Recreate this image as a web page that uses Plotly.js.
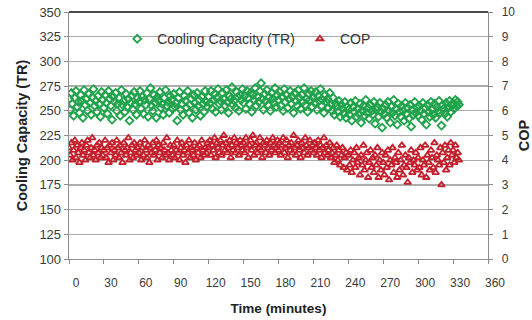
<!DOCTYPE html>
<html>
<head>
<meta charset="utf-8">
<script src="https://cdn.plot.ly/plotly-3.0.1.min.js"></script>
<style>html,body{margin:0;padding:0;background:#fff;}#chart{width:532px;height:320px;}</style>
</head>
<body>
<div id="chart"></div>
<script>
// Cooling capacity (TR), one reading per minute starting at t = 0
const coolingCapacity = [
262,251,268,257,245,263,270,254,259,248,266,260,243,271,256,262,250,267,258,246,264,272,255,260,249,265,257,244,269,261,
253,266,258,247,270,262,255,241,264,259,268,250,257,263,245,271,256,260,249,267,254,262,240,258,265,251,269,257,246,263,
259,270,252,264,247,261,256,268,244,262,273,255,250,266,258,243,264,260,269,253,257,246,263,271,255,259,248,265,261,252,
267,254,258,240,263,269,251,257,246,265,260,253,270,248,256,262,243,266,258,251,268,255,261,245,264,257,249,270,259,254,
264,258,270,252,261,267,249,263,272,257,260,251,268,262,255,271,259,248,265,262,274,256,260,253,269,264,250,266,261,272,
258,265,252,270,263,257,268,249,266,261,273,255,264,259,270,278,262,251,267,260,271,256,264,250,268,262,258,273,254,266,
261,269,255,264,250,272,259,266,253,262,270,257,264,248,268,260,255,271,263,252,266,259,273,256,262,249,267,261,270,254,
263,258,269,251,265,260,272,255,261,248,266,259,262,253,268,257,250,263,246,258,255,249,260,244,256,252,247,259,243,254,
251,246,258,240,254,249,260,244,252,247,257,238,250,255,245,261,248,253,242,256,250,246,259,237,251,254,244,258,249,233,
252,247,256,243,259,250,238,254,248,261,245,252,236,257,249,244,255,250,240,258,247,253,242,256,234,251,246,259,248,253,
245,255,250,241,258,247,253,236,256,249,244,259,251,246,257,243,254,250,260,248,235,256,252,247,258,244,253,260,249,255,
258,252,261,255,259,256
];
// COP, same one-minute readings
const cop = [
4.5,4.2,4.7,4.0,4.4,4.8,4.1,4.6,4.3,3.9,4.5,4.7,4.2,4.4,4.0,4.6,4.8,4.3,4.1,4.5,4.9,4.2,4.4,4.0,4.6,4.3,4.7,4.1,4.5,4.2,
4.4,4.8,4.1,4.5,3.9,4.6,4.3,4.7,4.0,4.4,4.2,4.8,4.5,4.1,4.6,4.3,3.9,4.7,4.4,4.2,4.5,4.9,4.0,4.3,4.6,4.1,4.7,4.4,4.2,4.5,
4.3,4.7,4.0,4.5,4.2,4.8,4.4,4.1,4.6,3.9,4.5,4.3,4.7,4.2,4.4,4.8,4.0,4.6,4.3,4.5,4.1,4.7,4.4,4.2,4.9,4.3,4.0,4.6,4.4,4.2,
4.6,4.1,4.4,4.8,4.3,4.0,4.5,4.7,4.2,4.4,3.9,4.6,4.3,4.8,4.1,4.5,4.4,4.2,4.7,4.0,4.5,4.3,4.6,4.1,4.8,4.4,4.2,4.5,4.3,4.7,
4.5,4.8,4.2,4.6,4.4,4.9,4.1,4.7,4.5,4.3,4.8,4.2,4.6,5.0,4.4,4.7,4.3,4.5,4.8,4.1,4.6,4.4,4.9,4.3,4.7,4.5,4.2,4.8,4.6,4.4,
4.7,4.3,4.9,4.5,4.1,4.6,4.8,4.4,5.0,4.2,4.6,4.7,4.3,4.5,4.9,4.4,4.1,4.7,4.6,4.3,4.8,4.5,4.2,4.7,4.4,4.9,4.6,4.3,4.5,4.8,
4.4,4.7,4.2,4.6,4.9,4.3,4.5,4.8,4.1,4.6,4.4,4.7,4.3,5.0,4.5,4.2,4.6,4.8,4.4,4.1,4.7,4.5,4.3,4.9,4.6,4.2,4.5,4.8,4.4,4.6,
4.3,4.7,4.5,4.2,4.8,4.4,4.6,4.1,4.5,4.9,4.3,4.6,4.2,4.4,4.7,4.1,4.3,4.5,3.9,4.2,4.6,4.0,4.4,3.8,4.2,4.5,3.7,4.1,4.3,3.6,
4.2,3.8,4.4,3.5,4.0,4.3,3.7,4.5,3.9,4.1,3.4,4.2,3.8,4.6,3.6,4.0,4.3,3.3,3.9,4.4,3.7,4.1,3.5,4.2,3.8,4.5,3.3,4.0,3.6,4.3,
3.9,3.4,4.2,3.7,4.4,3.2,4.0,3.8,4.5,3.5,4.1,3.9,3.3,4.3,3.6,4.0,4.6,3.4,3.8,4.2,3.7,3.1,4.1,3.9,4.4,3.5,4.0,3.8,4.3,3.6,
4.1,3.7,4.5,3.4,4.0,3.8,4.6,3.3,4.2,3.9,3.6,4.4,4.1,3.7,4.7,3.5,4.2,4.0,3.8,4.5,3.0,4.3,3.9,4.6,3.6,4.1,4.4,3.8,4.7,4.2,
4.4,3.9,4.6,4.1,4.3,4.0
];
const sampleMinutes = coolingCapacity.map((_, i) => i); // one sample per minute
const seriesNames = ['Cooling Capacity (TR)', 'COP'];
const xTicks = [0, 30, 60, 90, 120, 150, 180, 210, 240, 270, 300, 330, 360];
const yTicks = [100, 125, 150, 175, 200, 225, 250, 275, 300, 325, 350];
const y2Ticks = [0, 1, 2, 3, 4, 5, 6, 7, 8, 9, 10];

const FONT = 'Liberation Sans, Arial, sans-serif';
const GREEN = '#1fa34a';
const RED = '#c41e2a';

const traces = [
  {
    x: sampleMinutes, y: coolingCapacity, name: seriesNames[0], type: 'scatter', mode: 'markers',
    marker: {symbol: 'diamond-open', size: 6, color: GREEN, line: {width: 1.8, color: GREEN}},
    xaxis: 'x', yaxis: 'y'
  },
  {
    x: sampleMinutes, y: cop, name: seriesNames[1], type: 'scatter', mode: 'markers',
    marker: {symbol: 'triangle-up-open', size: 6, color: RED, line: {width: 1.8, color: RED}},
    xaxis: 'x', yaxis: 'y2'
  }
];

const layout = {
  width: 532, height: 320,
  margin: {l: 69, r: 44, t: 12, b: 61, pad: 0},
  paper_bgcolor: '#fff', plot_bgcolor: '#fff',
  font: {family: FONT, size: 12, color: '#3a3a3a'},
  showlegend: true,
  legend: {
    orientation: 'h', x: 0.115, y: 0.89, xanchor: 'left', yanchor: 'middle',
    bgcolor: 'rgba(255,255,255,0)', borderwidth: 0,
    font: {family: FONT, size: 14, color: '#333'}, itemwidth: 30
  },
  xaxis: {
    range: [0, 360], tickvals: xTicks, ticktext: xTicks.map(String),
    showgrid: false, zeroline: false, showline: true, linecolor: '#8c8c8c', linewidth: 1.3,
    ticks: 'outside', ticklen: 4, tickcolor: '#8c8c8c', tickwidth: 1,
    ticklabelstandoff: 8, ticklabelshift: 7,
    tickfont: {family: FONT, size: 12, color: '#3a3a3a'},
    title: {text: '<b>Time (minutes)</b>', font: {family: FONT, size: 13.5, color: '#222'}, standoff: 14}
  },
  yaxis: {
    range: [100, 350], tickvals: yTicks, ticktext: yTicks.map(String),
    showgrid: true, gridcolor: '#adadad', gridwidth: 1.3, zeroline: false,
    showline: true, linecolor: '#8c8c8c', linewidth: 1.3,
    ticks: 'outside', ticklen: 4, tickcolor: '#8c8c8c',
    tickfont: {family: FONT, size: 13, color: '#3a3a3a'},
    title: {text: '<b>Cooling Capacity (TR)</b>', font: {family: FONT, size: 14.5, color: '#222'}, standoff: 8}
  },
  yaxis2: {
    overlaying: 'y', side: 'right', range: [0, 10], tickvals: y2Ticks, ticktext: y2Ticks.map(String),
    showgrid: false, zeroline: false, showline: true, linecolor: '#8c8c8c', linewidth: 1.3,
    ticks: 'outside', ticklen: 4, tickcolor: '#8c8c8c', ticklabelstandoff: 6,
    tickfont: {family: FONT, size: 12, color: '#3a3a3a'},
    title: {text: '<b>COP</b>', font: {family: FONT, size: 14.5, color: '#222'}, standoff: 4}
  },
  shapes: [
    {type: 'rect', xref: 'paper', yref: 'y', x0: 0.122, x1: 0.755, y0: 298.6, y1: 326.4,
     fillcolor: '#fff', line: {width: 0}, layer: 'between'},
    {type: 'line', xref: 'paper', yref: 'paper', x0: 0, x1: 1, y0: 1, y1: 1,
     line: {color: '#111', width: 1.5}, layer: 'above'}
  ]
};

Plotly.newPlot('chart', traces, layout, {displayModeBar: false, staticPlot: true});
</script>
</body>
</html>
